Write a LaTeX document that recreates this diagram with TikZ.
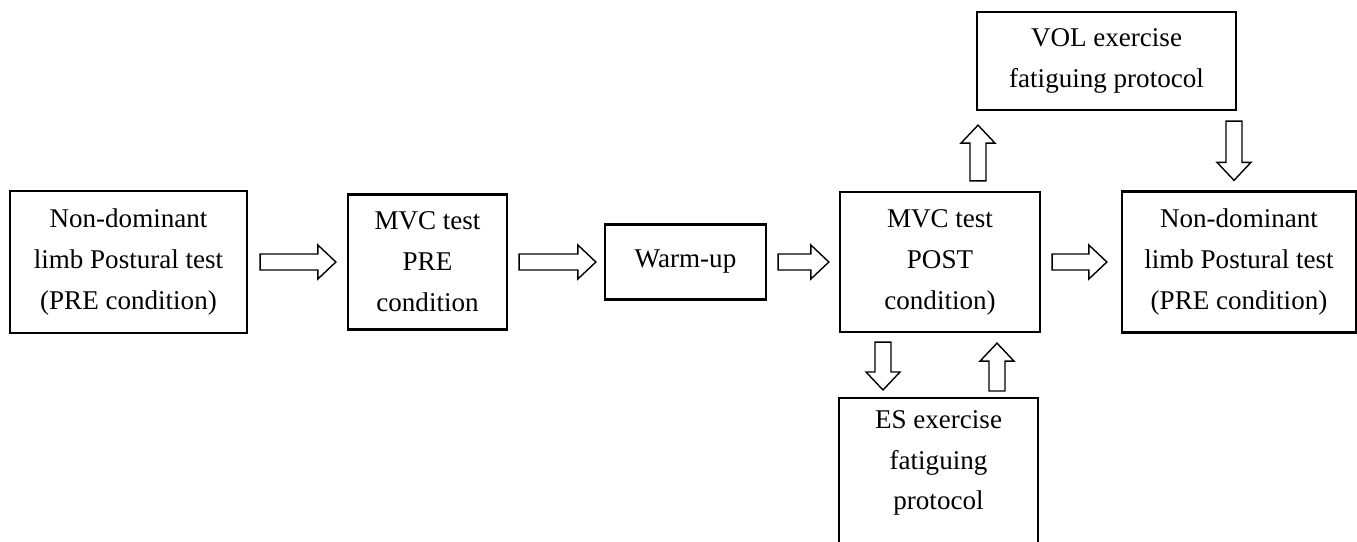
\documentclass[tikz,border=0pt]{standalone}
\usepackage{fontspec}
\setmainfont{Liberation Serif}
\usetikzlibrary{calc}

\begin{document}
\begin{tikzpicture}[
  stagebox/.style={draw, line width=1.3pt, align=center, inner sep=0pt,
                   font=\fontsize{15.4pt}{23.3pt}\selectfont},
  blk/.style={draw, line width=0.8pt, to path={
    let \p1=($(\tikztotarget)-(\tikztostart)$), \n1={atan2(\y1,\x1)} in
    ($(\tikztostart)+(\n1+90:0.16)$)
    -- ($(\tikztotarget)+(\n1+180:0.36)+(\n1+90:0.16)$)
    -- ($(\tikztotarget)+(\n1+180:0.36)+(\n1+90:0.34)$)
    -- (\tikztotarget)
    -- ($(\tikztotarget)+(\n1+180:0.36)+(\n1-90:0.34)$)
    -- ($(\tikztotarget)+(\n1+180:0.36)+(\n1-90:0.16)$)
    -- ($(\tikztostart)+(\n1-90:0.16)$) -- cycle}}
]

\useasboundingbox (0,0) rectangle (27.14,10.82);
\clip (0,0) rectangle (27.14,10.82);

% --- Main row ---
\node[stagebox, minimum width=4.74cm, minimum height=2.84cm]
      (pre1) at (2.57,5.58) {Non-dominant\\limb Postural test\\(PRE condition)};
\node[stagebox, minimum width=3.18cm, minimum height=2.70cm]
      (mvcpre) at (8.55,5.58) {MVC test\\PRE\\condition};
\node[stagebox, minimum width=3.22cm, minimum height=1.50cm]
      (warmup) at (13.71,5.58) {Warm-up};
\node[stagebox, minimum width=4.00cm, minimum height=2.80cm]
      (mvcpost) at (18.80,5.58) {MVC test\\POST\\condition)};
\node[stagebox, minimum width=4.68cm, minimum height=2.82cm]
      (post) at (24.78,5.58) {Non-dominant\\limb Postural test\\(PRE condition)};

% --- Fatiguing protocols ---
\node[stagebox, minimum width=5.18cm, minimum height=1.96cm]
      (vol) at (22.13,9.60) {VOL exercise\\fatiguing protocol};
\node[stagebox, minimum width=3.98cm, anchor=north, inner ysep=0.24cm, text depth=2.2cm]
      (es) at (18.77,2.88) {ES exercise\\fatiguing\\protocol};

% Arrows along the row
\draw[blk] ([xshift=0.24cm]pre1.east) to ([xshift=-0.22cm]mvcpre.west);
\draw[blk] ([xshift=0.22cm]mvcpre.east) to ([xshift=-0.16cm]warmup.west);
\draw[blk] ([xshift=0.22cm]warmup.east) to ([xshift=-0.20cm]mvcpost.west);
\draw[blk] ([xshift=0.22cm]mvcpost.east) to ([xshift=-0.28cm]post.west);

% Arrows to and from the protocols
\draw[blk] ([xshift=0.76cm,yshift=0.20cm]mvcpost.north) to ([xshift=-2.57cm,yshift=-0.28cm]vol.south);
\draw[blk] ([xshift=2.55cm,yshift=-0.20cm]vol.south) to ([xshift=-0.10cm,yshift=0.20cm]post.north);
\draw[blk] ([xshift=-1.14cm,yshift=-0.18cm]mvcpost.south) to ([xshift=-1.11cm,yshift=0.14cm]es.north);
\draw[blk] ([xshift=1.17cm,yshift=0.12cm]es.north) to ([xshift=1.14cm,yshift=-0.20cm]mvcpost.south);

\end{tikzpicture}
\end{document}
